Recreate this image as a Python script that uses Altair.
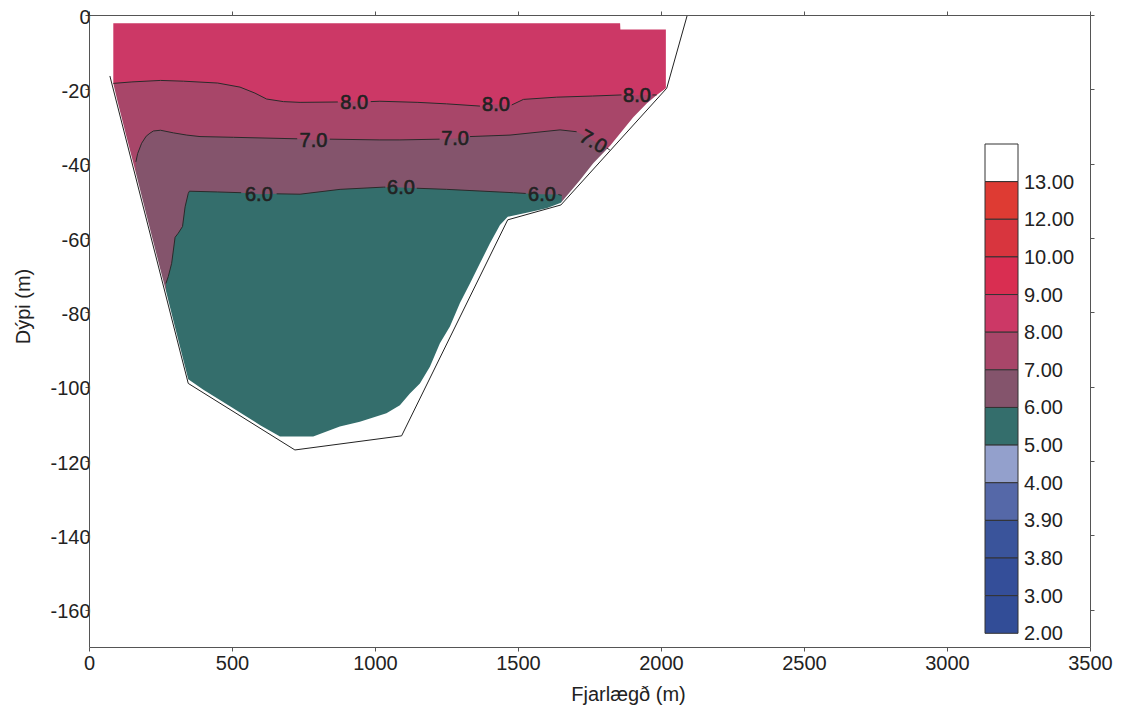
import altair as alt
import pandas as pd

# ---------------- axis ticks ----------------
X_TICKS = [0, 500, 1000, 1500, 2000, 2500, 3000, 3500]
Y_TICKS = [0, -20, -40, -60, -80, -100, -120, -140, -160]

# ---------------- lake bed outline (distance m, depth m) ----------------
BED_X = [73, 347, 720, 1093, 1464, 1650, 2020, 2092]
BED_D = [-16.4, -99.1, -117.0, -113.2, -55.1, -51.1, -19.7, 0.0]

# ---------------- top edge of the gridded data ----------------
TOP_X = [85, 1857, 1858, 2017]
TOP_D = [-2.2, -2.2, -3.9, -3.9]

# ---------------- bottom edge of the gridded data ----------------
BOT_X = [80, 85, 100, 130, 164, 200, 250, 269, 300, 347, 400, 500, 600, 668,
         784, 877, 947, 1040, 1087, 1122, 1157, 1192, 1227, 1262, 1297, 1332,
         1367, 1402, 1437, 1464, 1542, 1600, 1650, 1717, 1763, 1822, 1903,
         1950, 1985, 2017, 2022]
BOT_D = [-18.4, -18.4, -23.3, -32.4, -42.5, -53.5, -68.6, -74.2, -83.7, -98.0,
         -100.8, -105.6, -110.4, -113.4, -113.4, -110.7, -109.4, -107.1,
         -105.0, -101.8, -99.1, -94.6, -88.3, -83.8, -77.5, -72.2, -66.8,
         -61.4, -56.5, -54.3, -53.0, -52.0, -50.5, -44.4, -39.9, -35.2,
         -27.5, -23.8, -21.5, -19.7, -19.7]

# ---------------- contour lines (pieces between labels) ----------------
C8_SEGS = [
    [(85, -18.4), (150, -18.0), (250, -17.6), (330, -17.8), (450, -18.3),
     (528, -19.4), (580, -21.0), (621, -22.6), (680, -23.3), (738, -23.5),
     (870, -23.4)],
    [(985, -23.3), (1017, -23.2), (1150, -23.5), (1250, -23.9), (1367, -24.5)],
    [(1478, -24.2), (1519, -22.7), (1635, -22.1), (1760, -21.8), (1862, -21.5)],
    [(1970, -21.5), (1985, -21.5)],
]
C7_SEGS = [
    [(164, -39.5), (170, -37.3), (184, -34.5), (200, -32.6), (213, -31.8),
     (225, -31.2), (250, -31.0), (295, -31.7), (342, -32.3), (388, -32.7),
     (505, -32.9), (728, -33.3)],
    [(842, -33.4), (1017, -33.6), (1087, -33.6), (1226, -33.4)],
    [(1332, -32.7), (1472, -32.3), (1647, -30.9), (1705, -31.4)],
    [(1811, -35.8), (1821, -36.3)],
]
C6_SEGS = [
    [(269, -72.2), (277, -70.4), (289, -66.8), (301, -59.8), (312, -58.7),
     (327, -56.9), (336, -51.6), (347, -48.0), (351, -47.4), (450, -47.6),
     (532, -47.8)],
    [(656, -48.1), (738, -48.2), (878, -46.9), (1029, -46.3), (1036, -46.3)],
    [(1146, -46.6), (1250, -46.9), (1484, -47.8), (1527, -48.0)],
    [(1641, -48.3), (1653, -48.5)],
]

# ---------------- contour labels ----------------
LBL_TEXT = ["8.0", "8.0", "8.0", "7.0", "7.0", "7.0", "6.0", "6.0", "6.0"]
LBL_X = [927, 1423, 1916, 785, 1280, 1764, 594, 1091, 1584]
LBL_D = [-23.3, -24.0, -21.6, -33.6, -33.2, -33.9, -48.2, -46.4, -48.2]
LBL_ANGLE = [0, 0, 0, 0, 0, 30, 0, 0, 0]

# ---------------- colours ----------------
C_89 = "#CC3866"
C_78 = "#A84669"
C_67 = "#84546C"
C_56 = "#346E6C"

LEG_LABELS = ["13.00", "12.00", "10.00", "9.00", "8.00", "7.00", "6.00",
              "5.00", "4.00", "3.90", "3.80", "3.00", "2.00"]
LEG_COLORS = ["#FFFFFF", "#DE3B33", "#D8353E", "#D92E51", "#CC3866", "#A84669",
              "#84546C", "#346E6C", "#93A0CC", "#5568A8", "#3A549B", "#344E99",
              "#324D97"]

FONT = "Liberation Sans"
TXT = "#222222"
AX = "#555555"


# ---------------- tables ----------------
def seg_table(segs, name):
    rows = []
    for s, seg in enumerate(segs):
        for i, (x, d) in enumerate(seg):
            rows.append({"x": x, "d": d, "seg": f"{name}{s}", "i": i})
    return rows


def area_table(segs, lab_val):
    pts = [p for seg in segs for p in seg]
    for t, x, d in zip(LBL_TEXT, LBL_X, LBL_D):
        if t == lab_val:
            pts.append((x, d))
    pts.sort(key=lambda p: p[0])
    return pd.DataFrame({"x": [p[0] for p in pts], "d": [p[1] for p in pts]})


top_df = pd.DataFrame({"x": TOP_X, "d": TOP_D})
bot_df = pd.DataFrame({"x": BOT_X, "d": BOT_D})
bed_df = pd.DataFrame({"x": BED_X, "d": BED_D, "i": list(range(len(BED_X)))})
a8_df = area_table(C8_SEGS, "8.0")
a7_df = area_table(C7_SEGS, "7.0")
a6_df = area_table(C6_SEGS, "6.0")
lines_df = pd.DataFrame(seg_table(C8_SEGS, "c8") + seg_table(C7_SEGS, "c7")
                        + seg_table(C6_SEGS, "c6"))
lbl_df = pd.DataFrame({"t": LBL_TEXT, "x": LBL_X, "d": LBL_D, "a": LBL_ANGLE})
n_leg = len(LEG_LABELS)
leg_df = pd.DataFrame({"y0": list(range(n_leg)), "y1": list(range(1, n_leg + 1)),
                       "lab": LEG_LABELS, "col": LEG_COLORS,
                       "x0": [0] * n_leg, "x1": [1] * n_leg})

xs = alt.Scale(domain=[0, 3500], nice=False, zero=False)
ys = alt.Scale(domain=[-170, 0], nice=False, zero=False)

axis_common = dict(grid=False, tickSize=4, domainColor=AX, tickColor=AX,
                   labelColor=TXT, titleColor=TXT, labelFontSize=20,
                   titleFontSize=20, titleFontWeight="normal", zindex=1,
                   labelFont=FONT, titleFont=FONT)

bottom_axis = alt.Axis(orient="bottom", values=X_TICKS, labelFlush=False,
                       labelExpr="'' + datum.value", labelPadding=2,
                       title="Fjarlægð (m)", titleX=539, titleY=53,
                       titleAlign="center", titleBaseline="alphabetic",
                       **axis_common)
left_axis = alt.Axis(orient="left", values=Y_TICKS, labelFlush=False,
                     labelExpr="'' + datum.value", labelPadding=-5,
                     labelOffset=2,
                     title="Dýpi (m)", titleX=-60, titleY=291, titleAngle=270,
                     titleAlign="center", titleBaseline="alphabetic",
                     **axis_common)
top_axis = alt.Axis(orient="top", values=X_TICKS, labels=False, title=None,
                    **axis_common)
right_axis = alt.Axis(orient="right", values=Y_TICKS, labels=False, title=None,
                      **axis_common)


def xq(axis=None):
    return alt.X("x:Q", scale=xs, axis=axis)


def yq(axis=None):
    return alt.Y("d:Q", scale=ys, axis=axis)


pink = alt.Chart(top_df).mark_area(color=C_89).encode(
    x=xq(bottom_axis), y=yq(left_axis), y2=alt.datum(-130))
band78 = alt.Chart(a8_df).mark_area(color=C_78).encode(
    x=xq(), y=yq(), y2=alt.datum(-130))
band67 = alt.Chart(a7_df).mark_area(color=C_67).encode(
    x=xq(), y=yq(), y2=alt.datum(-130))
band56 = alt.Chart(a6_df).mark_area(color=C_56).encode(
    x=xq(), y=yq(), y2=alt.datum(-130))
mask = alt.Chart(bot_df).mark_area(color="white").encode(
    x=xq(), y=yq(), y2=alt.datum(-170))
clines = alt.Chart(lines_df).mark_line(color="#2a2a2a", strokeWidth=1).encode(
    x=xq(), y=yq(), detail="seg:N", order="i:Q")
clabels = alt.Chart(lbl_df).mark_text(
    fontSize=20, color=TXT, font=FONT, align="center", baseline="middle", dy=1,
    stroke=TXT, strokeWidth=0.6
).encode(x=xq(), y=yq(), text="t:N", angle=alt.Angle("a:Q", scale=None))
bed = alt.Chart(bed_df).mark_line(color="#222222", strokeWidth=1).encode(
    x=xq(top_axis), y=yq(right_axis), order="i:Q")

main = alt.layer(pink, band78, band67, band56, mask, clines, clabels, bed
                 ).resolve_axis(x="independent", y="independent")

# colour bar: its own scales, placed inside the frame by the scale ranges
leg_x = alt.Scale(domain=[0, 1], range=[896, 929], nice=False, zero=False)
leg_y = alt.Scale(domain=[0, n_leg], range=[129, 618.3], nice=False, zero=False)

leg_rect = alt.Chart(leg_df).mark_rect(stroke="#333333", strokeWidth=1).encode(
    x=alt.X("x0:Q", scale=leg_x, axis=None),
    x2="x1:Q",
    y=alt.Y("y0:Q", scale=leg_y, axis=None),
    y2="y1:Q",
    color=alt.Color("col:N", scale=None),
)
leg_text = alt.Chart(leg_df).mark_text(
    align="left", baseline="middle", dx=6, dy=1, fontSize=20, color=TXT, font=FONT
).encode(
    x=alt.X("x1:Q", scale=leg_x, axis=None),
    y=alt.Y("y1:Q", scale=leg_y, axis=None),
    text="lab:N",
)
legend = alt.layer(leg_rect, leg_text)

chart = alt.layer(main, legend).resolve_scale(
    x="independent", y="independent"
).properties(
    width=1001, height=632,
    autosize=alt.AutoSizeParams(type="none"),
    padding={"left": 81, "top": 7, "right": 27, "bottom": 62},
).configure(font=FONT).configure_view(stroke=None)

chart.save("out.html", embed_options={"renderer": "svg", "actions": False})
